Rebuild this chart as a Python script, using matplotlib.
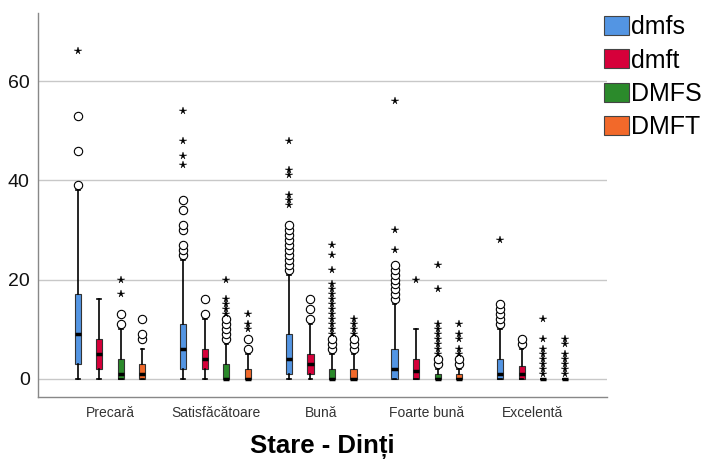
import matplotlib
matplotlib.use("Agg")
import matplotlib.pyplot as plt
import matplotlib.patches as mpatches
import numpy as np

plt.rcParams['font.family'] = ['Liberation Sans', 'DejaVu Sans']

groups = ["Precară", "Satisfăcătoare", "Bună", "Foarte bună", "Excelentă"]
series = ["dmfs", "dmft", "DMFS", "DMFT"]
colors = ["#5395E3", "#D6003A", "#2B8A2B", "#F2692A"]

# dmfs
dmfs_q1 = [3, 2, 1, 0, 0]
dmfs_med = [9, 6, 4, 2, 1]
dmfs_q3 = [17, 11, 9, 6, 4]
dmfs_lo = [0, 0, 0, 0, 0]
dmfs_hi = [38, 24, 21, 15, 10]
dmfs_out = [[39, 46, 53], [25, 26, 27, 30, 31, 34, 36],
            [22, 23, 24, 25, 26, 27, 28, 29, 30, 31],
            [16, 17, 18, 19, 20, 21, 22, 23], [11, 12, 13, 14, 15]]
dmfs_ext = [[66], [43, 45, 48, 54], [35, 36, 37, 41, 42, 48], [26, 30, 56], [28]]

# dmft
dmft_q1 = [2, 2, 1, 0, 0]
dmft_med = [5, 4, 3, 1.5, 1]
dmft_q3 = [8, 6, 5, 4, 2.5]
dmft_lo = [0, 0, 0, 0, 0]
dmft_hi = [16, 12, 11, 10, 6]
dmft_out = [[], [13, 16], [12, 14, 16], [], [7, 8]]
dmft_ext = [[], [], [], [20], []]

# DMFS
DMFS_q1 = [0, 0, 0, 0, 0]
DMFS_med = [1, 0, 0, 0, 0]
DMFS_q3 = [4, 3, 2, 1, 0]
DMFS_lo = [0, 0, 0, 0, 0]
DMFS_hi = [10, 7, 5, 2, 0]
DMFS_out = [[11, 13], [8, 9, 10, 11, 12], [6, 7, 8], [3, 4], []]
DMFS_ext = [[17, 20], [13, 14, 15, 16, 20],
            [9, 10, 11, 12, 13, 14, 15, 16, 17, 18, 19, 22, 25, 27],
            [5, 6, 7, 8, 9, 10, 11, 18, 23], [1, 2, 3, 4, 5, 6, 8, 12]]

# DMFT
DMFT_q1 = [0, 0, 0, 0, 0]
DMFT_med = [1, 0, 0, 0, 0]
DMFT_q3 = [3, 2, 2, 1, 0]
DMFT_lo = [0, 0, 0, 0, 0]
DMFT_hi = [6, 5, 5, 2, 0]
DMFT_out = [[8, 9, 12], [6, 8], [6, 7, 8], [3, 4], []]
DMFT_ext = [[], [10, 11, 13], [9, 10, 11, 12], [5, 6, 8, 9, 11], [1, 2, 3, 4, 5, 7, 8]]

data = [
    (dmfs_q1, dmfs_med, dmfs_q3, dmfs_lo, dmfs_hi, dmfs_out, dmfs_ext),
    (dmft_q1, dmft_med, dmft_q3, dmft_lo, dmft_hi, dmft_out, dmft_ext),
    (DMFS_q1, DMFS_med, DMFS_q3, DMFS_lo, DMFS_hi, DMFS_out, DMFS_ext),
    (DMFT_q1, DMFT_med, DMFT_q3, DMFT_lo, DMFT_hi, DMFT_out, DMFT_ext),
]

fig = plt.figure(figsize=(7.08, 4.61), dpi=100)
ax = fig.add_axes([0.0537, 0.1382, 0.8036, 0.8343])

offsets = [-0.306, -0.102, 0.102, 0.306]
bw = 0.058
for s, (q1, med, q3, lo, hi, out, ext) in enumerate(data):
    stats = []
    pos = []
    for g in range(len(groups)):
        stats.append(dict(med=med[g], q1=q1[g], q3=q3[g], whislo=lo[g],
                          whishi=hi[g], fliers=out[g]))
        pos.append(g + offsets[s])
    ax.bxp(stats, positions=pos, widths=bw, capwidths=bw * 0.6,
           patch_artist=True, manage_ticks=False,
           boxprops=dict(facecolor=colors[s], edgecolor="#333333", linewidth=0.8),
           medianprops=dict(color="black", linewidth=2.5, solid_capstyle="butt"),
           whiskerprops=dict(color="black", linewidth=1.2),
           capprops=dict(color="black", linewidth=1.2),
           flierprops=dict(marker="o", markersize=6, markerfacecolor="white",
                           markeredgecolor="black", markeredgewidth=0.8),
           zorder=3)
    for g in range(len(groups)):
        if ext[g]:
            ax.plot(np.full(len(ext[g]), g + offsets[s]), ext[g], linestyle="none",
                    marker="*", markersize=5.5, markeredgewidth=0.3, color="black", zorder=4)

ax.set_xlim(-0.682, 4.706)
ax.set_ylim(-3.75, 73.8)
ax.set_yticks([0, 20, 40, 60])
ax.set_xticks(range(len(groups)))
ax.set_xticklabels(groups, fontsize=10, color="#333333")
ax.tick_params(axis="y", labelsize=14, length=0, pad=6, labelcolor="#111111")
ax.tick_params(axis="x", length=0, pad=6)
ax.yaxis.grid(True, color="#c8c8c8", linewidth=1)
ax.set_axisbelow(True)
for sp in ["top", "right"]:
    ax.spines[sp].set_visible(False)
for sp in ["left", "bottom"]:
    ax.spines[sp].set_color("#888888")
    ax.spines[sp].set_linewidth(1)

ax.set_xlabel("Stare - Dinți", fontsize=18.5, fontweight="bold", labelpad=10)

handles = [mpatches.Patch(facecolor=c, edgecolor="#444444", linewidth=0.8) for c in colors]
fig.legend(handles, series, loc="upper left", bbox_to_anchor=(604 / 708, 1 - 15 / 461),
           frameon=False, fontsize=18, handlelength=1.0, handleheight=0.8,
           handletextpad=0.08, labelspacing=0.38, borderpad=0, borderaxespad=0)

fig.savefig("out.png", dpi=100)
